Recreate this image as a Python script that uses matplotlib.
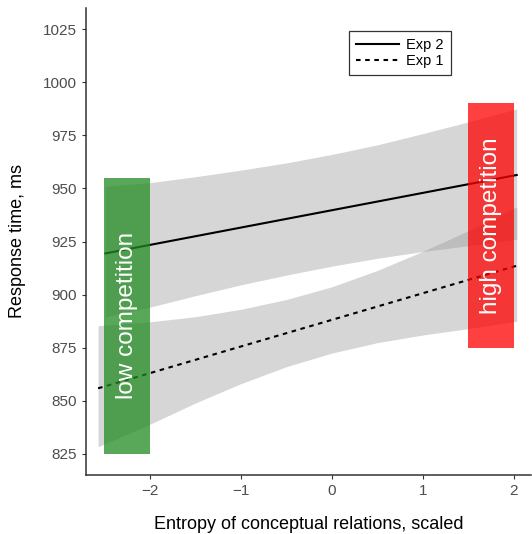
import matplotlib
matplotlib.use("Agg")
import matplotlib.pyplot as plt

plt.rcParams['font.family'] = ['Liberation Sans', 'DejaVu Sans']

# Exp 2 (solid) fitted line and confidence band
exp2_line_x = [-2.49, 2.03]
exp2_line_y = [919.4, 956.3]
exp2_band_x = [-2.49, -2.0, -1.5, -1.0, -0.5, 0.0, 0.5, 1.0, 1.5, 2.03]
exp2_upper = [951.0, 952.7, 955.5, 958.6, 962.0, 966.0, 970.5, 975.8, 981.3, 987.4]
exp2_lower = [889.5, 894.1, 899.5, 904.6, 909.2, 913.4, 917.1, 920.3, 923.0, 926.0]

# Exp 1 (dashed)
exp1_line_x = [-2.57, 2.03]
exp1_line_y = [855.9, 913.6]
exp1_band_x = [-2.57, -2.0, -1.5, -1.0, -0.5, 0.0, 0.5, 1.0, 1.5, 2.03]
exp1_upper = [885.4, 887.2, 889.6, 893.1, 897.7, 903.7, 911.4, 920.4, 930.1, 941.3]
exp1_lower = [828.4, 839.0, 849.0, 858.1, 866.1, 872.5, 877.4, 881.0, 884.0, 887.5]

# Competition boxes
boxes = [
    {"label": "low competition", "x": (-2.5, -2.0), "y": (825, 955), "color": "forestgreen"},
    {"label": "high competition", "x": (1.5, 2.0), "y": (875, 990), "color": "red"},
]

yticks = [825, 850, 875, 900, 925, 950, 975, 1000, 1025]
xticks = [-2, -1, 0, 1, 2]
xticklabels = ["\u22122", "\u22121", "0", "1", "2"]

W, H = 532, 534
fig = plt.figure(figsize=(W / 100, H / 100), dpi=100)
ax = fig.add_axes([86 / W, (H - 475) / H, (531 - 86) / W, (475 - 8) / H])

band_kw = dict(color="#999999", alpha=0.4, linewidth=0)
ax.fill_between(exp2_band_x, exp2_lower, exp2_upper, **band_kw, zorder=1)
ax.fill_between(exp1_band_x, exp1_lower, exp1_upper, **band_kw, zorder=1)

l2, = ax.plot(exp2_line_x, exp2_line_y, color="black", lw=1.5, zorder=2, label="Exp 2")
l1, = ax.plot(exp1_line_x, exp1_line_y, color="black", lw=1.5, ls=(0, (2.2, 2.2)),
              zorder=2, label="Exp 1")

for b in boxes:
    x0, x1 = b["x"]
    y0, y1 = b["y"]
    ax.fill_between([x0, x1], [y0, y0], [y1, y1], color=b["color"], alpha=0.75,
                    linewidth=0, zorder=3)
    ax.text((x0 + x1) / 2, (y0 + y1) / 2, b["label"], rotation=90, color="white",
            ha="center", va="center", fontsize=17.5, zorder=4)

ax.set_xlim(-2.703, 2.187)
ax.set_ylim(815.1, 1034.9)
ax.set_xticks(xticks)
ax.set_xticklabels(xticklabels)
ax.set_yticks(yticks)

for s in ["top", "right"]:
    ax.spines[s].set_visible(False)
for s in ["left", "bottom"]:
    ax.spines[s].set_color("#333333")
    ax.spines[s].set_linewidth(1.1)
ax.tick_params(axis="both", colors="#333333", length=3, width=0.8, labelsize=11,
               labelcolor="#4d4d4d")

ax.set_xlabel("Entropy of conceptual relations, scaled", fontsize=13, labelpad=13)
ax.set_ylabel("Response time, ms", fontsize=13, labelpad=12)

leg = ax.legend(handles=[l2, l1], loc="upper left", bbox_to_anchor=(0.591, 0.951),
                fontsize=10.5, frameon=True, fancybox=False, handlelength=2.9,
                borderpad=0.5, labelspacing=0.1, handletextpad=0.5,
                borderaxespad=0)
leg.get_frame().set_edgecolor("black")
leg.get_frame().set_linewidth(0.9)

fig.savefig("out.png", dpi=100)
